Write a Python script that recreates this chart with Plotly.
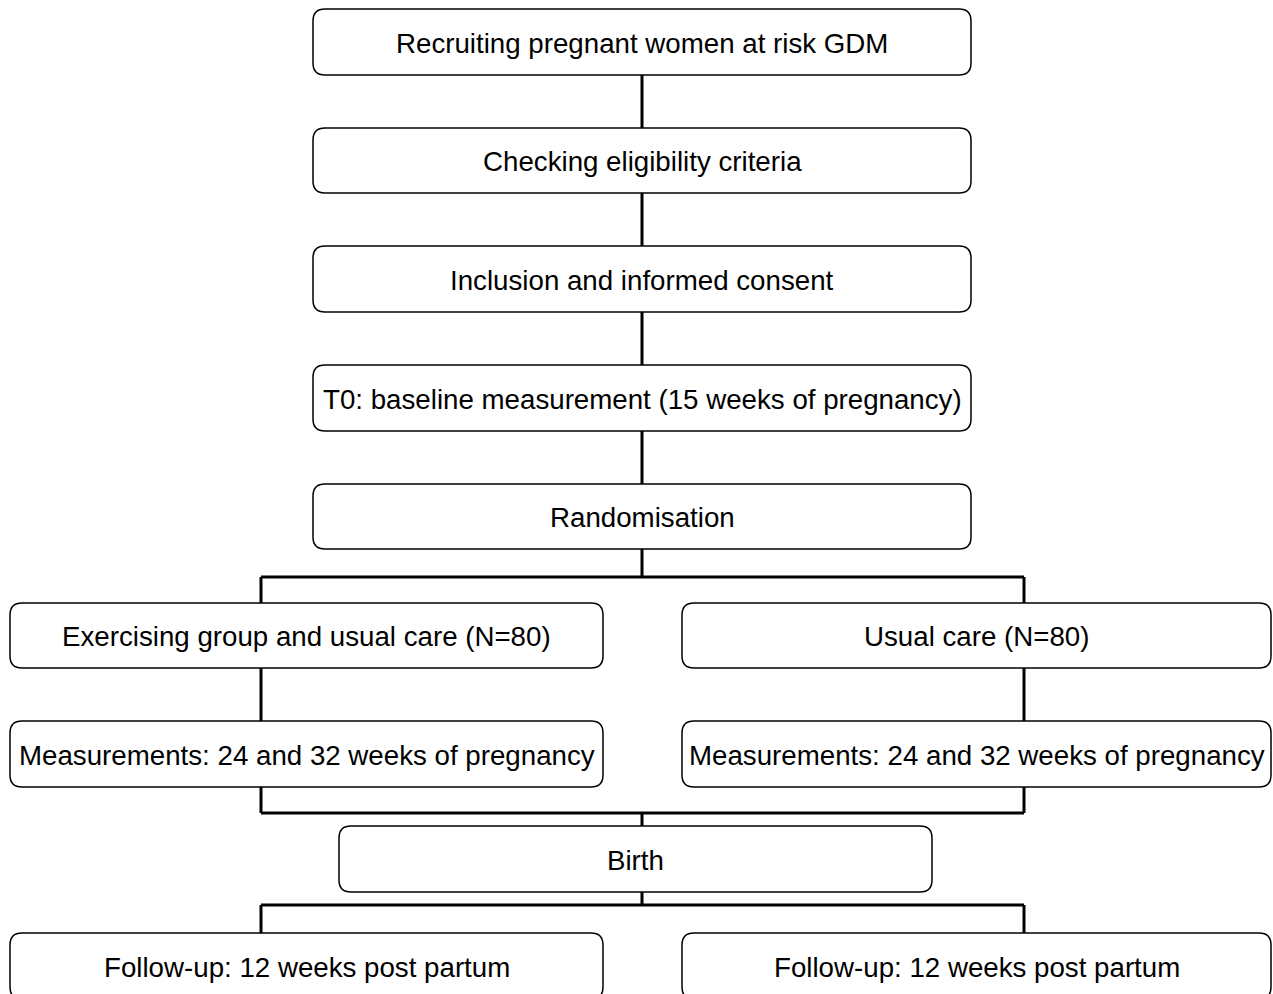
import plotly.graph_objects as go

# Node labels
labels = [
    "Recruiting pregnant women at risk GDM",
    "Checking eligibility criteria",
    "Inclusion and informed consent",
    "T0: baseline measurement (15 weeks of pregnancy)",
    "Randomisation",
    "Exercising group and usual care (N=80)",
    "Usual care (N=80)",
    "Measurements: 24 and 32 weeks of pregnancy",
    "Measurements: 24 and 32 weeks of pregnancy",
    "Birth",
    "Follow-up: 12 weeks post partum",
    "Follow-up: 12 weeks post partum",
]

# Box geometry (pixel layout): x0, x1, y0, y1
box_x0 = [313, 313, 313, 313, 313, 10, 682, 10, 682, 339, 10, 682]
box_x1 = [971, 971, 971, 971, 971, 603, 1271, 603, 1271, 932, 603, 1271]
box_y0 = [9, 128, 246, 365, 484, 603, 603, 721, 721, 826, 933, 933]
box_y1 = [75, 193, 312, 431, 549, 668, 668, 787, 787, 892, 999, 999]

# Connector segments: (x0, y0, x1, y1)
connectors = [
    (642, 75, 642, 128),
    (642, 193, 642, 246),
    (642, 312, 642, 365),
    (642, 431, 642, 484),
    (642, 549, 642, 577),
    (261, 577, 1024, 577),
    (261, 577, 261, 603),
    (1024, 577, 1024, 603),
    (261, 668, 261, 721),
    (1024, 668, 1024, 721),
    (261, 787, 261, 813),
    (1024, 787, 1024, 813),
    (261, 813, 1024, 813),
    (642, 813, 642, 826),
    (642, 892, 642, 905),
    (261, 905, 1024, 905),
    (261, 905, 261, 933),
    (1024, 905, 1024, 933),
]

W, H = 1273, 994
R = 12

def rrect(x0, y0, x1, y1, r):
    return (f"M {x0+r},{y0} L {x1-r},{y0} Q {x1},{y0} {x1},{y0+r} "
            f"L {x1},{y1-r} Q {x1},{y1} {x1-r},{y1} L {x0+r},{y1} "
            f"Q {x0},{y1} {x0},{y1-r} L {x0},{y0+r} Q {x0},{y0} {x0+r},{y0} Z")

fig = go.Figure()
shapes = []
for (x0, y0, x1, y1) in connectors:
    shapes.append(dict(type="line", xref="x", yref="y", x0=x0, y0=y0, x1=x1, y1=y1,
                       line=dict(color="black", width=3), layer="below"))
annotations = []
for i, lab in enumerate(labels):
    x0, x1, y0, y1 = box_x0[i], box_x1[i], box_y0[i], box_y1[i]
    shapes.append(dict(type="path", xref="x", yref="y", path=rrect(x0, y0, x1, y1, R),
                       line=dict(color="black", width=1.5), fillcolor="white", layer="above"))
    annotations.append(dict(x=(x0 + x1) / 2, y=(y0 + y1) / 2 + 1, xref="x", yref="y",
                            text=lab, showarrow=False, xanchor="center", yanchor="middle",
                            font=dict(family="Liberation Sans, Arial, sans-serif", size=27.7, color="black")))

fig.update_layout(
    width=W, height=H,
    margin=dict(l=0, r=0, t=0, b=0),
    paper_bgcolor="white", plot_bgcolor="white",
    xaxis=dict(range=[0, W], visible=False, fixedrange=True),
    yaxis=dict(range=[H, 0], visible=False, fixedrange=True),
    shapes=shapes, annotations=annotations, showlegend=False,
)
fig.write_html(
    "out.html",
    config={"displayModeBar": False},
    post_script="document.body.style.margin='0';document.body.style.overflow='hidden';",
)
